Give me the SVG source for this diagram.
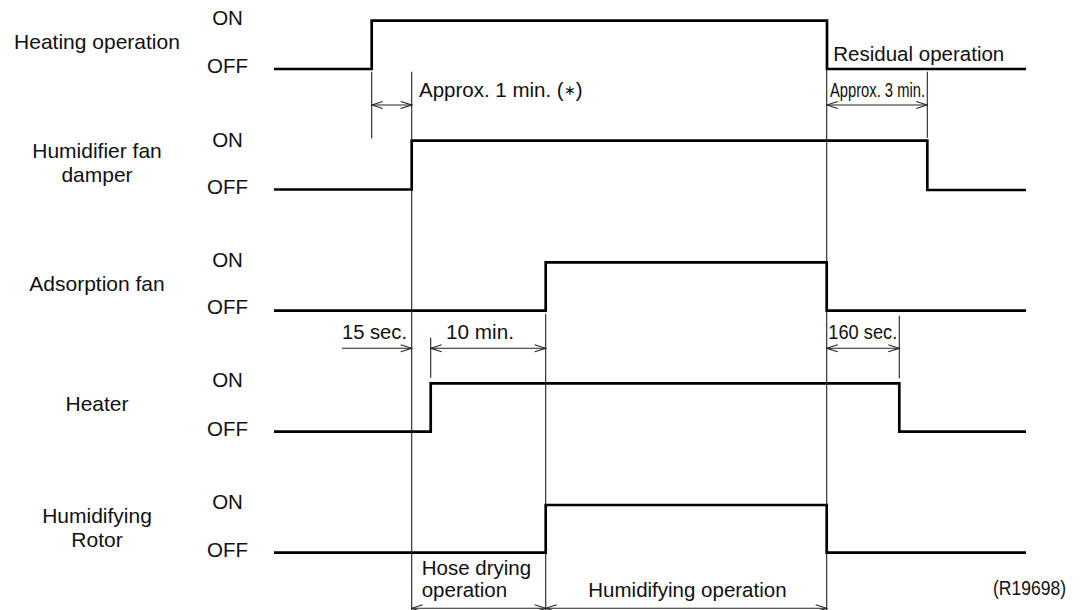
<svg xmlns="http://www.w3.org/2000/svg" width="1082" height="610" viewBox="0 0 1082 610">
<style>
text{font-family:"Liberation Sans",Arial,Helvetica,sans-serif;fill:#111}
.lbl{font-size:21px;text-anchor:middle}
.st{font-size:20.5px;text-anchor:middle}
.note{font-size:20.5px}
.sig{fill:none;stroke:#000;stroke-width:2.7;stroke-linejoin:miter;stroke-linecap:butt}
.thin{fill:none;stroke:#222;stroke-width:1.1}
.dim{fill:none;stroke:#222;stroke-width:1.1;marker-start:url(#ah);marker-end:url(#ah)}
.dim1{fill:none;stroke:#222;stroke-width:1.1;marker-end:url(#ah)}
</style>
<defs>
<marker id="ah" viewBox="-12 -5 13 10" refX="0" refY="0" markerWidth="13" markerHeight="10" markerUnits="userSpaceOnUse" orient="auto-start-reverse">
<path d="M-11,-3.5 L0,0 L-11,3.5" fill="none" stroke="#222" stroke-width="1.1"/>
</marker>
</defs>
<rect width="1082" height="610" fill="#fff"/>

<g id="heating-operation">
<text class="lbl" x="97" y="49">Heating operation</text>
<text class="st" x="227.5" y="25">ON</text>
<text class="st" x="227.5" y="73">OFF</text>
<path class="sig" d="M274,69 H371.7 V20.7 H827 V69 H1026"/>
<text class="note" x="833.3" y="61" font-size="21">Residual operation</text>
</g>

<g id="humidifier-fan-damper">
<text class="lbl" x="97" y="158">Humidifier fan<tspan x="97" dy="24">damper</tspan></text>
<text class="st" x="227.5" y="146.7">ON</text>
<text class="st" x="227.5" y="194.3">OFF</text>
<path class="sig" d="M274,189.5 H411.7 V140.7 H927.3 V190 H1026"/>
</g>

<g id="adsorption-fan">
<text class="lbl" x="97" y="290.7">Adsorption fan</text>
<text class="st" x="227.5" y="267.3">ON</text>
<text class="st" x="227.5" y="314.3">OFF</text>
<path class="sig" d="M274,310.7 H545.7 V262.3 H826.7 V310.7 H1026"/>
</g>

<g id="heater">
<text class="lbl" x="97" y="411">Heater</text>
<text class="st" x="227.5" y="387">ON</text>
<text class="st" x="227.5" y="436">OFF</text>
<path class="sig" d="M274,431.7 H430.7 V383.3 H899.3 V431.7 H1026"/>
</g>

<g id="humidifying-rotor">
<text class="lbl" x="97" y="522.7">Humidifying<tspan x="97" dy="24">Rotor</tspan></text>
<text class="st" x="227.5" y="509">ON</text>
<text class="st" x="227.5" y="556.7">OFF</text>
<path class="sig" d="M274,552.7 H545.7 V505 H826.7 V552.7 H1026"/>
</g>

<g id="connectors">
<path class="thin" d="M371.7,71.7 V138.3"/>
<path class="thin" d="M411.7,71.7 V140 M411.7,190 V610"/>
<path class="thin" d="M430.7,337.7 V377.7"/>
<path class="thin" d="M545.7,314 V505 M545.7,554 V610"/>
<path class="thin" d="M826.7,69 V262 M826.7,311 V505 M826.7,554 V610"/>
<path class="thin" d="M927.3,71.7 V137.7"/>
<path class="thin" d="M899.3,315.7 V378.3"/>

<path class="dim" d="M371.7,105 H411.7"/>
<path class="dim" d="M826.7,105 H927.3"/>
<path class="dim1" d="M342,348.3 H411.7"/>
<path class="dim" d="M430.7,348.3 H545.7"/>
<path class="dim" d="M826.7,348.3 H899.3"/>
<path class="dim" d="M411.7,608.3 H545.7"/>
<path class="dim" d="M545.7,608.3 H826.7"/>
</g>

<g id="labels">
<text class="note" x="419" y="96.7">Approx. 1 min. (<tspan font-size="14" dy="-2">∗</tspan><tspan dy="2">)</tspan></text>
<text class="note" x="830" y="96.7" font-size="20" textLength="95" lengthAdjust="spacingAndGlyphs">Approx. 3 min.</text>
<text class="note" x="342" y="339" textLength="65" lengthAdjust="spacingAndGlyphs">15 sec.</text>
<text class="note" x="446" y="339" textLength="68" lengthAdjust="spacingAndGlyphs">10 min.</text>
<text class="note" x="828.3" y="339" textLength="69" lengthAdjust="spacingAndGlyphs">160 sec.</text>
<text class="note" x="421.7" y="574.8" font-size="19.5">Hose drying<tspan x="421.7" dy="22.5">operation</tspan></text>
<text class="note" x="588.3" y="597.3" font-size="20">Humidifying operation</text>
<text class="note" x="993" y="595" font-size="16" textLength="73" lengthAdjust="spacingAndGlyphs">(R19698)</text>
</g>
</svg>
